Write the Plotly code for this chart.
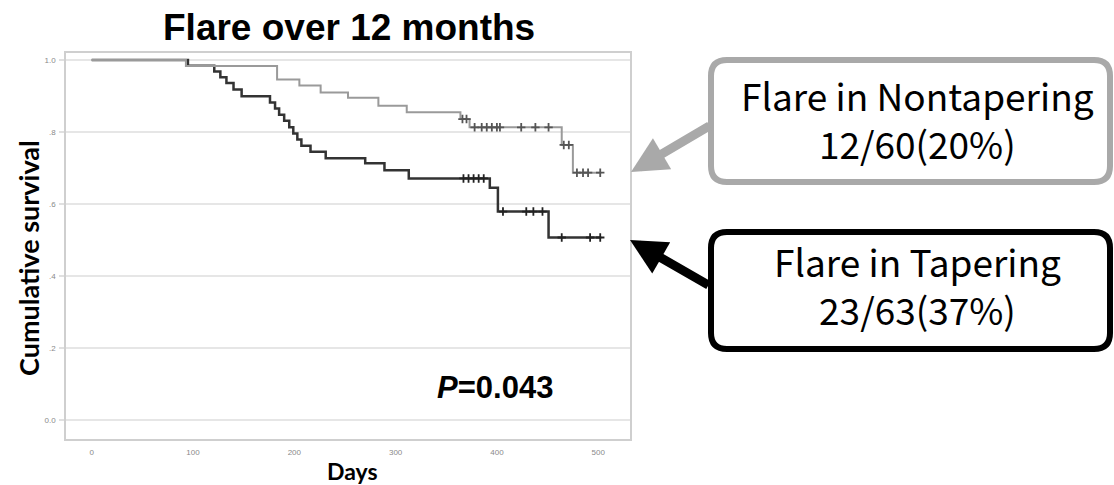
import plotly.graph_objects as go

# ---------------- data ----------------
nontaper_event_days = [93, 183, 205, 226, 253, 283, 311, 364, 373, 464, 475]
nontaper_event_surv = [0.983, 0.946, 0.929, 0.910, 0.895, 0.873, 0.855, 0.836, 0.813, 0.764, 0.687]
nontaper_censor_days = [366, 370, 378, 385, 390, 395, 400, 403, 424, 438, 451, 466, 471, 479, 485, 490, 502]
nontaper_end_day = 503

taper_event_days = [95, 121, 127, 133, 140, 148, 176, 181, 185, 190, 195, 199, 203, 207,
                    216, 231, 270, 289, 313, 393, 401, 451]
taper_event_surv = [0.984, 0.968, 0.952, 0.936, 0.918, 0.899, 0.882, 0.865, 0.848, 0.831,
                    0.813, 0.796, 0.779, 0.762, 0.745, 0.727, 0.713, 0.694, 0.671, 0.645,
                    0.579, 0.507]
taper_censor_days = [367, 372, 377, 382, 387, 406, 429, 436, 445, 464, 492, 502]
taper_end_day = 503

y_tick_vals = [0.0, 0.2, 0.4, 0.6, 0.8, 1.0]
y_tick_text = ["0.0", ".2", ".4", ".6", ".8", "1.0"]
x_tick_vals = [0, 100, 200, 300, 400, 500]

title_text = "Flare over 12 months"
y_title = "Cumulative survival"
x_title = "Days"
p_text = "<b><i>P</i>=0.043</b>"
nontaper_label = ["Flare in Nontapering", "12/60(20%)"]
taper_label = ["Flare in Tapering", "23/63(37%)"]


def step_xy(days, surv, end):
    xs = [0] + list(days) + [end]
    ys = [1.0] + list(surv) + [surv[-1]]
    return xs, ys


def surv_at(day, days, surv):
    s = 1.0
    for d, v in zip(days, surv):
        if d <= day:
            s = v
    return s


# ---------------- layout geometry (pixels) ----------------
W, H = 1114, 485
L, R, T, B = 66, 630, 53, 439


def px(x):
    return (x - L) / (R - L)


def py(y):
    return (B - y) / (B - T)


def rounded_box(x0, y0, x1, y1, r):
    rx = r / (R - L)
    ry = r / (B - T)
    X0, X1 = px(x0), px(x1)
    Y0, Y1 = py(y0), py(y1)
    return (f"M {X0 + rx},{Y0} L {X1 - rx},{Y0} Q {X1},{Y0} {X1},{Y0 - ry} "
            f"L {X1},{Y1 + ry} Q {X1},{Y1} {X1 - rx},{Y1} "
            f"L {X0 + rx},{Y1} Q {X0},{Y1} {X0},{Y1 + ry} "
            f"L {X0},{Y0 - ry} Q {X0},{Y0} {X0 + rx},{Y0} Z")


fig = go.Figure()

gx, gy = step_xy(nontaper_event_days, nontaper_event_surv, nontaper_end_day)
bx, by = step_xy(taper_event_days, taper_event_surv, taper_end_day)

fig.add_trace(go.Scatter(x=bx, y=by, mode="lines", line=dict(shape="hv", color="#333333", width=2.5),
                         hoverinfo="skip", showlegend=False))
fig.add_trace(go.Scatter(x=gx, y=gy, mode="lines", line=dict(shape="hv", color="#9a9a9a", width=2),
                         hoverinfo="skip", showlegend=False))
fig.add_trace(go.Scatter(
    x=taper_censor_days,
    y=[surv_at(d, taper_event_days, taper_event_surv) for d in taper_censor_days],
    mode="markers", marker=dict(symbol="cross-thin-open", size=6, color="#222222",
                                line=dict(color="#222222", width=1.8)),
    hoverinfo="skip", showlegend=False))
fig.add_trace(go.Scatter(
    x=nontaper_censor_days,
    y=[surv_at(d, nontaper_event_days, nontaper_event_surv) for d in nontaper_censor_days],
    mode="markers", marker=dict(symbol="cross-thin-open", size=6, color="#555555",
                                line=dict(color="#555555", width=1.8)),
    hoverinfo="skip", showlegend=False))

x_lo = (L - 91.7) / 1.013
x_hi = (R - 91.7) / 1.013
y_lo = (420 - B) / 360
y_hi = (420 - T) / 360

fig.update_layout(
    width=W, height=H,
    margin=dict(l=L, r=W - R, t=T, b=H - B, pad=0),
    paper_bgcolor="white", plot_bgcolor="white",
    xaxis=dict(range=[x_lo, x_hi], tickvals=x_tick_vals, showgrid=False, zeroline=False,
               showline=True, linecolor="#cfcfcf", linewidth=1.5, mirror=True,
               ticks="", ticklabelstandoff=5,
               tickfont=dict(family="Liberation Sans", size=8, color="#8a8a8a")),
    yaxis=dict(range=[y_lo, y_hi], tickvals=y_tick_vals, ticktext=y_tick_text,
               showgrid=True, gridcolor="#e6e6e6", gridwidth=2, zeroline=False,
               showline=True, linecolor="#cfcfcf", linewidth=1.5, mirror=True,
               ticks="outside", ticklen=5, tickcolor="#e0e0e0", tickwidth=2, ticklabelstandoff=2,
               tickfont=dict(family="Liberation Sans", size=8, color="#8a8a8a")),
    showlegend=False,
)

box_font = dict(family="Noto Sans CJK JP", size=37, color="black")
annotations = [
    dict(text=f"<b>{title_text}</b>", x=px(349), y=py(28), xref="paper", yref="paper",
         showarrow=False, xanchor="center", yanchor="middle",
         font=dict(family="Liberation Sans", size=37, color="black")),
    dict(text=f"<b>{y_title}</b>", x=px(28), y=py(258), xref="paper", yref="paper",
         showarrow=False, xanchor="center", yanchor="middle", textangle=-90,
         font=dict(family="Lato", size=27, color="black")),
    dict(text=f"<b>{x_title}</b>", x=px(352), y=py(471), xref="paper", yref="paper",
         showarrow=False, xanchor="center", yanchor="middle",
         font=dict(family="Lato", size=23, color="black")),
    dict(text=p_text, x=px(495), y=py(387), xref="paper", yref="paper",
         showarrow=False, xanchor="center", yanchor="middle",
         font=dict(family="Liberation Sans", size=31, color="black")),
    dict(text="<br>".join(nontaper_label), x=px(917), y=py(119), xref="paper", yref="paper",
         showarrow=False, xanchor="center", yanchor="middle", align="center", font=box_font),
    dict(text="<br>".join(taper_label), x=px(917), y=py(285), xref="paper", yref="paper",
         showarrow=False, xanchor="center", yanchor="middle", align="center", font=box_font),
    # arrows
    dict(text="", x=px(631), y=py(172), xref="paper", yref="paper", showarrow=True,
         ax=80, ay=-47, axref="pixel", ayref="pixel", arrowhead=2, arrowsize=0.8,
         arrowwidth=9, arrowcolor="#a9a9a9", standoff=0),
    dict(text="", x=px(630), y=py(240), xref="paper", yref="paper", showarrow=True,
         ax=80, ay=46, axref="pixel", ayref="pixel", arrowhead=2, arrowsize=0.8,
         arrowwidth=9, arrowcolor="#000000", standoff=0),
]
fig.update_layout(annotations=annotations)

fig.update_layout(shapes=[
    dict(type="path", xref="paper", yref="paper", path=rounded_box(711, 60, 1110, 182, 16),
         line=dict(color="#a9a9a9", width=6), fillcolor="white", layer="above"),
    dict(type="path", xref="paper", yref="paper", path=rounded_box(711, 232, 1110, 349, 16),
         line=dict(color="#000000", width=6), fillcolor="white", layer="above"),
])

fig.write_html("out.html", config={"displayModeBar": False},
               post_script="document.body.style.margin='0px';document.body.style.overflow='hidden';")
